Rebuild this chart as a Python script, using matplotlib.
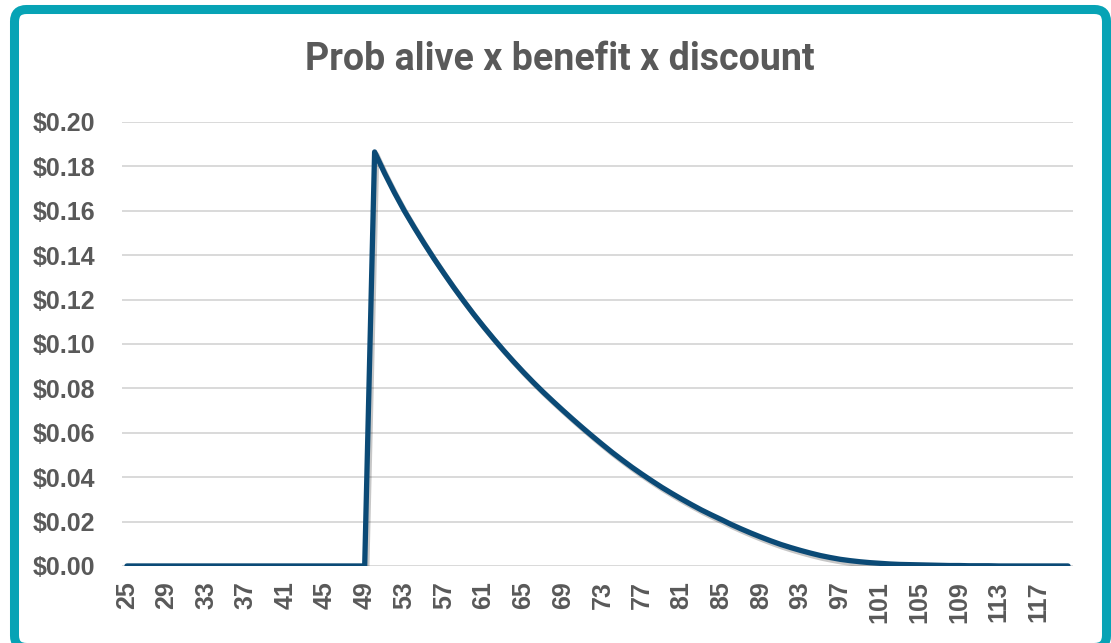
import matplotlib.pyplot as plt
import matplotlib.patheffects as pe
from matplotlib.patches import FancyBboxPatch
from matplotlib.ticker import FuncFormatter, MultipleLocator

# ages 25..120, payments start at 50
ages = list(range(25, 121))
pre_benefit = [0.0] * 25
post_benefit = [
    0.1865, 0.1770, 0.1682, 0.1600, 0.1525, 0.1453, 0.1384, 0.1318, 0.1254, 0.1193,
    0.1134, 0.1078, 0.1024, 0.0972, 0.0922, 0.0874, 0.0828, 0.0784, 0.0742, 0.0701,
    0.0661, 0.0622, 0.0584, 0.0547, 0.0511, 0.0477, 0.0444, 0.0413, 0.0383, 0.0354,
    0.0327, 0.0301, 0.0276, 0.0252, 0.0230, 0.0209, 0.0187, 0.0167, 0.0148, 0.0130,
    0.0113, 0.0097, 0.0083, 0.0070, 0.0058, 0.0047, 0.0038, 0.0030, 0.0024, 0.0019,
    0.0015, 0.0012, 0.0009, 0.0007, 0.0006, 0.0005, 0.0004, 0.0003, 0.0002, 0.0002,
    0.0001, 0.0001, 0.0001, 0.0, 0.0, 0.0, 0.0, 0.0, 0.0, 0.0, 0.0,
]
pv_values = pre_benefit + post_benefit

title = "Prob alive x benefit x discount"
text_grey = "#595959"
line_blue = "#0B4A76"
frame_teal = "#07A3B5"

fig = plt.figure(figsize=(11.11, 6.43), dpi=100)
ax = fig.add_axes([0.1098, 0.1198, 0.856, 0.6905])

idx = list(range(len(ages)))
ax.plot(idx, pv_values, color=line_blue, lw=3.8, solid_capstyle="round",
        solid_joinstyle="round", zorder=3,
        path_effects=[pe.SimpleLineShadow(offset=(1.5, -2), shadow_color="k", alpha=0.22),
                      pe.Normal()])

ax.set_xlim(-0.5, len(ages) - 0.5)
ax.set_ylim(0, 0.2)
ax.yaxis.set_major_locator(MultipleLocator(0.02))
ax.yaxis.set_major_formatter(FuncFormatter(lambda v, p: f"${v:.2f}"))
ax.set_xticks(idx[::4])
ax.set_xticklabels([str(a) for a in ages[::4]], rotation=90)

ax.grid(axis="y", color="#D9D9D9", lw=1.4)
ax.set_axisbelow(True)
for s in ax.spines.values():
    s.set_visible(False)
ax.tick_params(length=0)
ax.tick_params(axis="y", pad=19, labelsize=18, labelcolor=text_grey)
ax.tick_params(axis="x", pad=11, labelsize=18, labelcolor=text_grey)
for lab in ax.get_xticklabels() + ax.get_yticklabels():
    lab.set_fontweight("bold")
    lab.set_family(["Liberation Sans", "DejaVu Sans"])

fig.text(0.504, 1 - 60 / 643, title, ha="center", va="center", fontsize=27,
         fontweight="bold", color=text_grey,
         family=["Liberation Sans Narrow", "Roboto", "DejaVu Sans"])

# rounded teal frame around the chart
frame = FancyBboxPatch((0.145, -0.045), 10.92, 6.38,
                       boxstyle="round,pad=0,rounding_size=0.12",
                       transform=fig.dpi_scale_trans, fill=False,
                       edgecolor=frame_teal, lw=6.5, clip_on=False)
fig.add_artist(frame)

fig.savefig("out.png", dpi=100)
